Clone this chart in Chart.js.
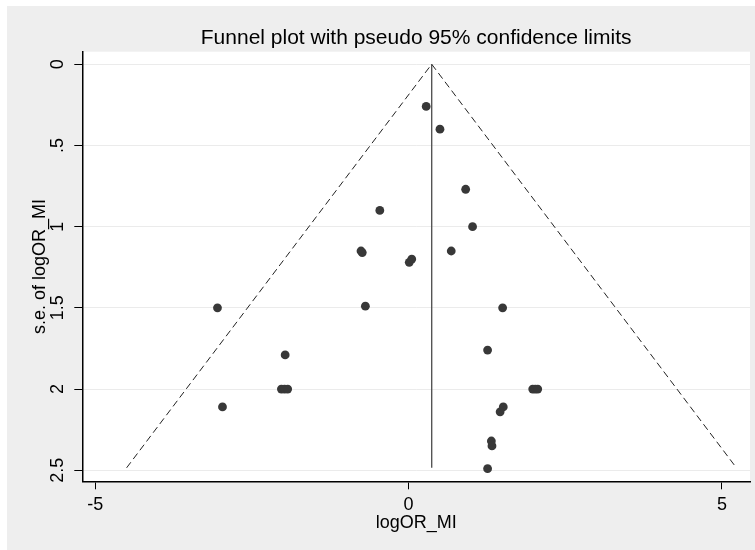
<!DOCTYPE html>
<html><head><meta charset="utf-8">
<script src="https://cdn.jsdelivr.net/npm/chart.js@4"></script>
<style>html,body{margin:0;padding:0;background:#fff}canvas{display:block}</style>
</head><body>
<canvas id="c" width="755" height="550"></canvas>
<script>
const titleText = 'Funnel plot with pseudo 95% confidence limits';
const xAxisTitle = 'logOR_MI';
const yAxisTitle = 's.e. of logOR_MI';

// study estimates
const logOR = [0.28, 0.50, 0.91, -0.46, 1.02, -0.76, -0.74, 0.68, 0.01, 0.05,
  -3.05, -0.69, 1.50, -1.97, 1.26, -2.03, -1.98, -1.93, 1.98, 2.02, 2.06,
  -2.97, 1.46, 1.51, 1.32, 1.33, 1.26];
const seLogOR = [0.26, 0.40, 0.77, 0.90, 1.00, 1.15, 1.16, 1.15, 1.22, 1.20,
  1.50, 1.49, 1.50, 1.79, 1.76, 2.00, 2.00, 2.00, 2.00, 2.00, 2.00,
  2.11, 2.14, 2.11, 2.32, 2.35, 2.49];

// pooled estimate line and pseudo 95% limits
const pooledX = [0.368, 0.368];
const pooledY = [0, 2.485];
const limitX = [-4.50, 0.368, 5.23];
const limitY = [2.485, 0, 2.485];

const xTickValues = [-5, 0, 5];
const xTickLabels = ['-5', '0', '5'];
const yTickValues = [0, 0.5, 1, 1.5, 2, 2.5];
const yTickLabels = ['0', '.5', '1', '1.5', '2', '2.5'];

const FONT = "'Liberation Sans', Arial, sans-serif";

const toPts = (xs, ys) => xs.map((x, i) => ({ x: x, y: ys[i] }));

const bgPlugin = {
  id: 'bg',
  beforeDraw(chart) {
    const { ctx, chartArea: a } = chart;
    ctx.save();
    ctx.fillStyle = '#ffffff';
    ctx.fillRect(0, 0, chart.width, chart.height);
    ctx.fillStyle = '#eeeeee';
    ctx.fillRect(7, 6, chart.width - 7, chart.height - 6);
    ctx.fillStyle = '#ffffff';
    ctx.fillRect(a.left, a.top, a.right - a.left, a.bottom - a.top);
    ctx.restore();
  },
  afterDraw(chart) {
    const { ctx, chartArea: a } = chart;
    const ys = chart.scales.y;
    ctx.save();
    ctx.fillStyle = '#000';
    ctx.textAlign = 'center';
    ctx.textBaseline = 'middle';
    ctx.font = '18px ' + FONT;
    yTickValues.forEach((v, i) => {
      const py = ys.getPixelForValue(v);
      ctx.save();
      ctx.translate(a.left - 24, py);
      ctx.rotate(-Math.PI / 2);
      ctx.fillText(yTickLabels[i], 0, 0);
      ctx.restore();
    });
    ctx.font = '21px ' + FONT;
    ctx.fillText(titleText, (a.left + a.right) / 2, 38);
    ctx.restore();
  }
};

new Chart(document.getElementById('c'), {
  type: 'scatter',
  data: {
    datasets: [
      { data: toPts(limitX, limitY), showLine: true, borderColor: '#222', borderWidth: 1,
        borderDash: [7, 4], pointRadius: 0, fill: false, tension: 0 },
      { data: toPts(pooledX, pooledY), showLine: true, borderColor: '#555', borderWidth: 1.4,
        pointRadius: 0, fill: false },
      { data: toPts(logOR, seLogOR), showLine: false, pointRadius: 4.4, pointBorderWidth: 0,
        pointBackgroundColor: '#383838', pointBorderColor: '#383838' }
    ]
  },
  options: {
    responsive: false,
    animation: false,
    devicePixelRatio: 1,
    layout: { padding: { left: 10, right: 5, top: 51.7, bottom: 0 } },
    plugins: { legend: { display: false }, tooltip: { enabled: false }, title: { display: false } },
    scales: {
      x: {
        type: 'linear', min: -5.207, max: 5.447,
        afterBuildTicks: s => { s.ticks = xTickValues.map(v => ({ value: v })); },
        afterFit: s => { s.height = 550 - 481.3; },
        ticks: { callback: (v) => xTickLabels[xTickValues.indexOf(v)], color: '#000',
          font: { family: FONT, size: 18 }, padding: 5, maxRotation: 0 },
        grid: { drawOnChartArea: false, tickColor: '#000', tickLength: 8, tickWidth: 1 },
        border: { display: true, color: '#000', width: 1.5 },
        title: { display: true, text: xAxisTitle, color: '#000', font: { family: FONT, size: 18 },
          padding: { top: 0, bottom: 15.7 } }
      },
      y: {
        type: 'linear', reverse: true, min: -0.077, max: 2.568,
        afterBuildTicks: s => { s.ticks = yTickValues.map(v => ({ value: v })); },
        afterFit: s => { s.width = 82.3 - 10; },
        ticks: { display: false },
        grid: { color: '#ebebeb', lineWidth: 1, tickColor: '#000', tickLength: 8, tickWidth: 1 },
        border: { display: true, color: '#000', width: 1.5 },
        title: { display: true, text: yAxisTitle, color: '#000', font: { family: FONT, size: 18 },
          padding: { top: 19.2, bottom: 0 } }
      }
    }
  },
  plugins: [bgPlugin]
});
</script>
</body></html>
